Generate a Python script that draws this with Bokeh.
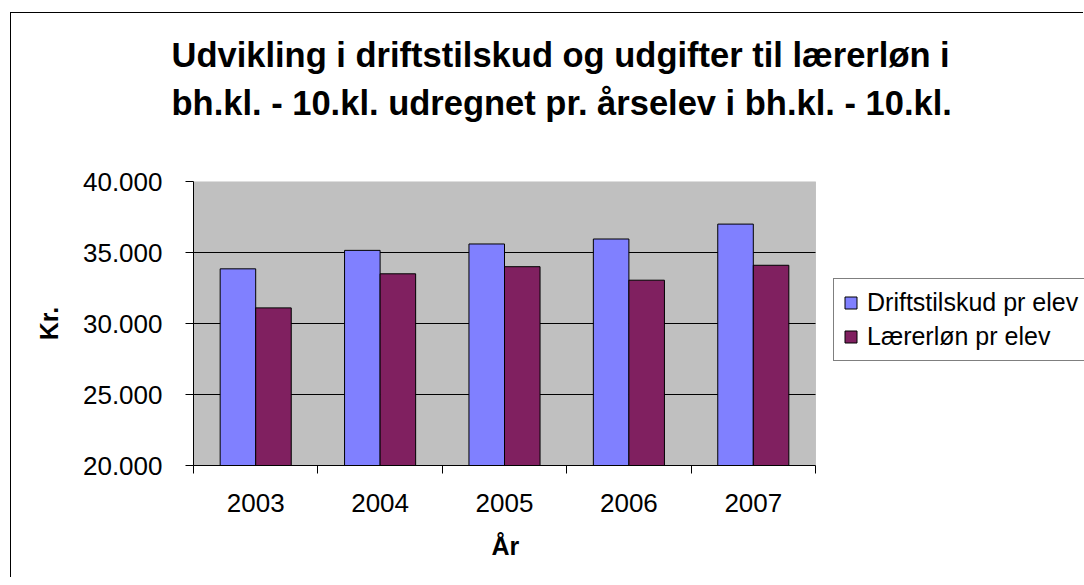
from bokeh.plotting import figure
from bokeh.models import (ColumnDataSource, FixedTicker, Legend, LegendItem, Title,
                          Range1d, BoxAnnotation)
from bokeh.embed import file_html
from bokeh.resources import INLINE

# ---- data ----
years = ["2003", "2004", "2005", "2006", "2007"]
drift = [33850, 35150, 35600, 35950, 37000]
laerer = [31100, 33500, 34000, 33050, 34100]
y_ticks = [20000, 25000, 30000, 35000, 40000]
series_names = ["Driftstilskud pr elev", "Lærerløn pr elev"]
title_lines = ["Udvikling i driftstilskud og udgifter til lærerløn i",
               "bh.kl. - 10.kl. udregnet pr. årselev i bh.kl. - 10.kl."]
x_title = "År"
y_title = "Kr."

FONT = "Liberation Sans"
BLUE = "#8080FF"
PLUM = "#802060"
GRAY = "#C0C0C0"

# ---- layout (pixels) ----
W, H = 1073, 565
LEFT, TOP, BOTTOM = 182, 168, 111
PLOT_W = 622                      # width of the grey plotting area
FRAME_W = W - LEFT                # frame runs to the right edge (room for legend)

n = len(years)
centers = [i + 0.5 for i in range(n)]
bar_w = 1 / 3.5
src = ColumnDataSource(dict(
    x1=[c - bar_w / 2 for c in centers],
    x2=[c + bar_w / 2 for c in centers],
    drift=drift, laerer=laerer))

p = figure(width=W, height=H, output_backend="svg", toolbar_location=None,
           x_range=Range1d(0, n * FRAME_W / PLOT_W),
           y_range=Range1d(y_ticks[0], y_ticks[-1]),
           min_border_left=LEFT, min_border_right=0,
           min_border_top=TOP, min_border_bottom=BOTTOM)
p.styles = {"margin-left": "11px", "margin-top": "13px",
            "box-shadow": "-1px -1px 0 0 black"}
p.background_fill_color = "white"
p.border_fill_color = "white"
p.outline_line_color = None

# grey plot area with its grey border
area = BoxAnnotation(left=0, right=n, bottom=y_ticks[0], top=y_ticks[-1],
                     fill_color=GRAY, fill_alpha=1, line_color="#808080",
                     line_width=1, level="underlay")
p.add_layout(area)

# horizontal gridlines across the plot area
inner = y_ticks[1:-1]
p.segment(x0=[0] * len(inner), x1=[n] * len(inner), y0=inner, y1=inner,
          line_color="black", line_width=1)

r1 = p.vbar(x="x1", width=bar_w, bottom=y_ticks[0], top="drift", source=src,
            fill_color=BLUE, line_color="black", line_width=1)
r2 = p.vbar(x="x2", width=bar_w, bottom=y_ticks[0], top="laerer", source=src,
            fill_color=PLUM, line_color="black", line_width=1)

p.xgrid.grid_line_color = None
p.ygrid.grid_line_color = None

# x axis
p.xaxis.bounds = (0, n)
p.xaxis.ticker = FixedTicker(ticks=centers, minor_ticks=list(range(n + 1)))
p.xaxis.major_label_overrides = {c: y for c, y in zip(centers, years)}
p.xaxis.major_tick_out = 0
p.xaxis.major_tick_in = 0
p.xaxis.minor_tick_out = 8
p.xaxis.minor_tick_in = 0
p.xaxis.minor_tick_line_color = "black"
p.xaxis.major_label_standoff = 20

# y axis
p.yaxis.ticker = FixedTicker(ticks=y_ticks)
p.yaxis.major_label_overrides = {v: f"{v:,}".replace(",", ".") for v in y_ticks}
p.yaxis.major_tick_out = 8
p.yaxis.major_tick_in = 0
p.yaxis.minor_tick_line_color = None
p.yaxis.major_label_standoff = 23
p.yaxis.axis_label = y_title
p.yaxis.axis_label_standoff = 17

for ax in (p.xaxis, p.yaxis):
    ax.axis_line_color = "black"
    ax.major_tick_line_color = "black"
    ax.major_label_text_font = FONT
    ax.major_label_text_font_size = "26px"
    ax.major_label_text_color = "black"
    ax.axis_label_text_font = FONT
    ax.axis_label_text_font_size = "25px"
    ax.axis_label_text_font_style = "bold"
    ax.axis_label_text_color = "black"

# x axis title, centred under the grey plot area
xt = Title(text=x_title, align="left", offset=298, vertical_align="top",
           text_font=FONT, text_font_size="25px", text_font_style="bold",
           text_color="black", standoff=34)
p.add_layout(xt, "below")

# title: blank spacer nearest the frame, then the two-line title above it
spacer = Title(text=" ", text_font=FONT, text_font_size="10px", standoff=45,
               text_color="white")
p.add_layout(spacer, "above")
t = Title(text="\n".join(title_lines), align="left", offset=-22,
          text_font=FONT, text_font_size="34.5px", text_font_style="bold",
          text_color="black", text_line_height=1.25, standoff=4)
p.add_layout(t, "above")

# legend (inside the frame, right of the grey area)
legend = Legend(items=[LegendItem(label=series_names[0], renderers=[r1]),
                       LegendItem(label=series_names[1], renderers=[r2])],
                location=(640, 104), margin=0, padding=9, spacing=5,
                glyph_width=15, glyph_height=15, label_height=24,
                label_standoff=9, label_text_font=FONT,
                label_text_font_size="25px", label_text_color="black",
                border_line_color="black", border_line_width=1,
                background_fill_color="white", background_fill_alpha=1)
p.add_layout(legend)

open("out.html", "w").write(file_html(p, INLINE))
